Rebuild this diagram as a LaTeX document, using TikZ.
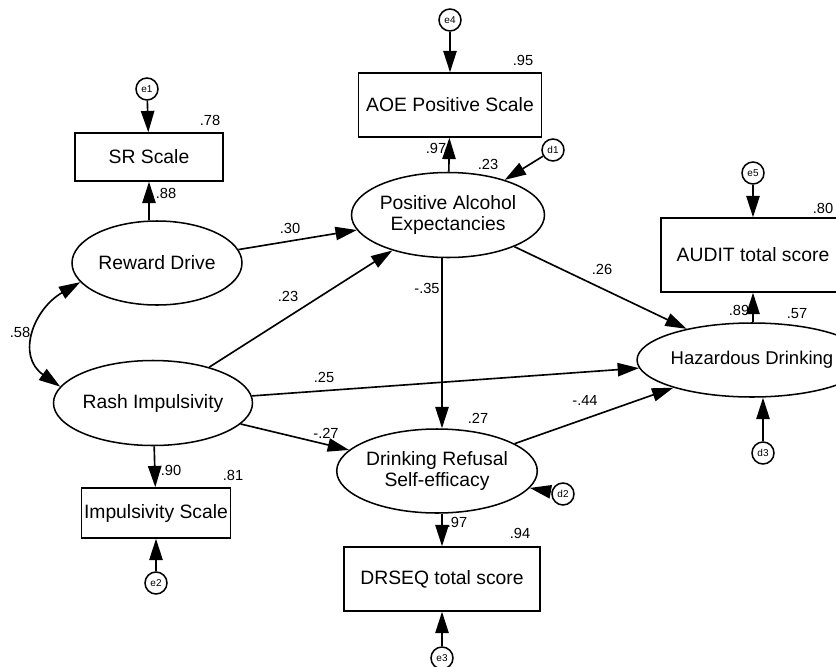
\documentclass[tikz,border=0pt]{standalone}
\usepackage{fontspec}
\setmainfont{Liberation Sans}
\usepackage{tikz}
\usetikzlibrary{arrows.meta,shapes.geometric}
\tikzstyle{latentNode}=[draw,ellipse,line width=1.3pt,inner sep=0pt,align=center,font=\fontsize{16.5}{18.5}\selectfont]
\tikzstyle{observedNode}=[draw,rectangle,line width=1.3pt,inner sep=0pt,font=\fontsize{16.5}{18.5}\selectfont]
\tikzstyle{errorNode}=[draw,circle,line width=1.3pt,minimum size=0.66cm,inner sep=0pt,font=\fontsize{8.5}{9}\selectfont]
\tikzstyle{pathArrow}=[-{Triangle[length=0.64cm,width=0.4cm]}, line width=1.4pt]
\tikzstyle{coefLabel}=[inner sep=0pt,font=\fontsize{12.5}{13}\selectfont]

\begin{document}
\begin{tikzpicture}[x=0.03cm,y=0.03cm]
	\useasboundingbox (0,0) rectangle (836,-666);

	\node[latentNode, minimum width=5.1cm, minimum height=2.52cm] (rd) at (157,-263) {Reward Drive};
	\node[latentNode, minimum width=5.16cm, minimum height=2.55cm] (ri) at (153,-403) {Rash Impulsivity};
	\node[latentNode, minimum width=5.31cm, minimum height=2.55cm] (pae) at (448,-215) {Positive Alcohol\\Expectancies};
	\node[latentNode, minimum width=5.13cm, minimum height=2.52cm] (drs) at (437,-471) {Drinking Refusal\\Self-efficacy};
	\node[latentNode, minimum width=5.52cm, minimum height=2.22cm, font=\fontsize{15.8}{18}\selectfont] (hd) at (752,-360) {Hazardous Drinking};

	\node[observedNode, minimum width=4.44cm, minimum height=1.44cm] (sr) at (149,-157) {SR Scale};
	\node[observedNode, minimum width=4.47cm, minimum height=1.5cm] (is) at (156,-513) {Impulsivity Scale};
	\node[observedNode, minimum width=5.49cm, minimum height=1.92cm] (aoe) at (450,-105) {AOE Positive Scale};
	\node[observedNode, minimum width=5.88cm, minimum height=1.92cm] (dq) at (442,-579) {DRSEQ total score};
	\node[observedNode, minimum width=5.52cm, minimum height=2.22cm] (audit) at (753,-255) {AUDIT total score};

	\node[errorNode] (e1) at (147,-89) {e1};
	\node[errorNode] (e2) at (156,-583) {e2};
	\node[errorNode] (e3) at (442,-658) {e3};
	\node[errorNode] (e4) at (450,-20) {e4};
	\node[errorNode] (e5) at (753,-173) {e5};
	\node[errorNode] (d1) at (553,-150) {d1};
	\node[errorNode] (d2) at (563,-494) {d2};
	\node[errorNode] (d3) at (763,-453) {d3};

	% measurement paths
	\draw[pathArrow] (e1) -- (sr);
	\draw[pathArrow] (rd.north -| sr) -- (sr);
	\draw[pathArrow] (ri) -- (is);
	\draw[pathArrow] (e2) -- (is);
	\draw[pathArrow] (e4) -- (aoe);
	\draw[pathArrow] (pae) -- (aoe);
	\draw[pathArrow] (drs.south -| dq) -- (dq);
	\draw[pathArrow] (e3) -- (dq);
	\draw[pathArrow] (e5) -- (audit);
	\draw[pathArrow] (hd.north -| audit) -- (audit);

	% structural paths
	\draw[pathArrow] (rd) -- (pae);
	\draw[pathArrow] (ri) -- (pae);
	\draw[pathArrow] (ri) -- (hd);
	\draw[pathArrow] (ri) -- (drs);
	\draw[pathArrow] (pae.south -| dq) -- (drs.north -| dq);
	\draw[pathArrow] (pae) -- (hd);
	\draw[pathArrow] (drs) -- (hd);
	\draw[pathArrow] (d1) -- (pae);
	\draw[pathArrow] (d2) -- (drs);
	\draw[pathArrow] (d3) -- (hd.south -| d3);
	\draw[pathArrow, {Triangle[length=0.64cm,width=0.4cm]}-{Triangle[length=0.64cm,width=0.4cm]}] (rd.194) to[out=210, in=145, looseness=1.3] (ri.170);

	\node[coefLabel] (r78) at (210,-120) {.78};
	\node[coefLabel] (l88) at (166,-193) {.88};
	\node[coefLabel] (l30) at (290,-228) {.30};
	\node[coefLabel] (l23) at (288,-296) {.23};
	\node[coefLabel] (l58) at (20,-332) {.58};
	\node[coefLabel] (l90) at (171,-470) {.90};
	\node[coefLabel] (r81) at (233,-475) {.81};
	\node[coefLabel] (r95) at (523,-60) {.95};
	\node[coefLabel] (l97a) at (436,-148) {.97};
	\node[coefLabel] (r23) at (488,-164) {.23};
	\node[coefLabel] (l26) at (602,-269) {.26};
	\node[coefLabel] (l25) at (324,-377) {.25};
	\node[coefLabel] (l27) at (326,-433) {-.27};
	\node[coefLabel] (l35) at (427,-288) {-.35};
	\node[coefLabel] (r27) at (478,-418) {.27};
	\node[coefLabel] (l44) at (585,-400) {-.44};
	\node[coefLabel] (l97b) at (457,-522) {.97};
	\node[coefLabel] (r94) at (520,-533) {.94};
	\node[coefLabel] (r80) at (823,-208) {.80};
	\node[coefLabel] (l89) at (739,-310) {.89};
	\node[coefLabel] (r57) at (797,-314) {.57};
\end{tikzpicture}
\end{document}
